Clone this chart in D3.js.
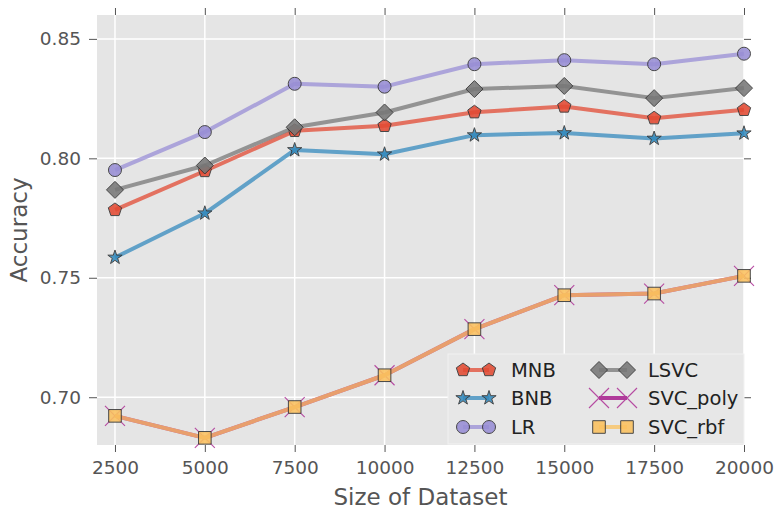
<!DOCTYPE html>
<html>
<head>
<meta charset="utf-8">
<script src="https://cdn.jsdelivr.net/npm/d3@7"></script>
<style>
  html, body { margin: 0; padding: 0; background: #ffffff; }
  svg { display: block; font-family: "DejaVu Sans", sans-serif; }
</style>
</head>
<body>
<svg id="chart" width="777" height="513"></svg>
<script>
// ---- data ----
const sizes = [2500, 5000, 7500, 10000, 12500, 15000, 17500, 20000];
const mnb   = [0.7784, 0.7947, 0.8115, 0.8136, 0.8193, 0.8217, 0.8168, 0.8203];
const bnb   = [0.7585, 0.7770, 0.8035, 0.8017, 0.8097, 0.8106, 0.8083, 0.8105];
const lr    = [0.7951, 0.8110, 0.8312, 0.8300, 0.8394, 0.8411, 0.8394, 0.8438];
const lsvc  = [0.7868, 0.7970, 0.8130, 0.8192, 0.8290, 0.8303, 0.8252, 0.8294];
const svcPoly = [0.6922, 0.6830, 0.6959, 0.7092, 0.7285, 0.7427, 0.7434, 0.7508];
const svcRbf  = [0.6922, 0.6830, 0.6959, 0.7092, 0.7285, 0.7427, 0.7434, 0.7508];
const xTicks = [2500, 5000, 7500, 10000, 12500, 15000, 17500, 20000];
const yTicks = [0.70, 0.75, 0.80, 0.85];
const seriesNames = ["MNB", "BNB", "LR", "LSVC", "SVC_poly", "SVC_rbf"];

// ---- styling ----
const styles = {
  MNB:      {color: "#E24A33", marker: "pentagon", size: 7},
  BNB:      {color: "#348ABD", marker: "star", size: 7.5},
  LR:       {color: "#988ED5", marker: "circle", size: 6.5},
  LSVC:     {color: "#777777", marker: "diamond", size: 8.5},
  SVC_poly: {color: "#B03A9A", marker: "x", size: 10},
  SVC_rbf:  {color: "#FBC15E", marker: "square", size: 6.3}
};
const seriesValues = {MNB: mnb, BNB: bnb, LR: lr, LSVC: lsvc, SVC_poly: svcPoly, SVC_rbf: svcRbf};

const margin = {left: 97, right: 33, top: 15, bottom: 68};
const W = 777, H = 513;
const iw = W - margin.left - margin.right;
const ih = H - margin.top - margin.bottom;

const svg = d3.select("#chart");
const g = svg.append("g").attr("transform", `translate(${margin.left},${margin.top})`);

const x = d3.scaleLinear().domain([2000, 20000]).range([0, iw]);
const y = d3.scaleLinear().domain([0.68, 0.86]).range([ih, 0]);

g.append("rect").attr("width", iw).attr("height", ih).attr("fill", "#E5E5E5");

// grid
g.append("g").selectAll("line").data(xTicks).join("line")
  .attr("x1", d => x(d)).attr("x2", d => x(d)).attr("y1", 0).attr("y2", ih)
  .attr("stroke", "#ffffff").attr("stroke-width", 1.5);
g.append("g").selectAll("line").data(yTicks).join("line")
  .attr("y1", d => y(d)).attr("y2", d => y(d)).attr("x1", 0).attr("x2", iw)
  .attr("stroke", "#ffffff").attr("stroke-width", 1.5);

// axes
function styleAxis(sel, showText) {
  sel.select(".domain").remove();
  sel.selectAll(".tick line").attr("stroke", "#555555").attr("stroke-width", 1);
  sel.selectAll(".tick text").attr("fill", "#555555").style("font-size", "18.5px")
     .style("font-family", "DejaVu Sans, sans-serif");
  if (!showText) sel.selectAll(".tick text").remove();
}
g.append("g").attr("transform", `translate(0,${ih})`)
  .call(d3.axisBottom(x).tickValues(xTicks).tickFormat(d3.format("d")).tickSize(7).tickPadding(9))
  .call(s => styleAxis(s, true));
g.append("g")
  .call(d3.axisTop(x).tickValues(xTicks).tickSize(7))
  .call(s => styleAxis(s, false));
g.append("g")
  .call(d3.axisLeft(y).tickValues(yTicks).tickFormat(d3.format(".2f")).tickSize(8).tickPadding(8))
  .call(s => styleAxis(s, true));
g.append("g").attr("transform", `translate(${iw},0)`)
  .call(d3.axisRight(y).tickValues(yTicks).tickSize(7))
  .call(s => styleAxis(s, false));

// axis titles
svg.append("text").attr("x", margin.left + iw / 2).attr("y", 505)
  .attr("text-anchor", "middle").attr("fill", "#555555").style("font-size", "23px")
  .text("Size of Dataset");
svg.append("text")
  .attr("transform", `translate(27,${margin.top + ih / 2}) rotate(-90)`)
  .attr("text-anchor", "middle").attr("fill", "#555555").style("font-size", "23px")
  .text("Accuracy");

// marker shapes
function polygonPath(n, r, rot, innerRatio) {
  const pts = [];
  const count = innerRatio ? n * 2 : n;
  for (let i = 0; i < count; i++) {
    const rr = innerRatio && i % 2 === 1 ? r * innerRatio : r;
    const a = rot + i * 2 * Math.PI / count;
    pts.push([rr * Math.sin(a), -rr * Math.cos(a)]);
  }
  return "M" + pts.map(p => p[0].toFixed(2) + "," + p[1].toFixed(2)).join("L") + "Z";
}
function markerPath(type, s) {
  switch (type) {
    case "pentagon": return polygonPath(5, s, 0);
    case "star": return polygonPath(5, s, 0, 0.381966);
    case "circle": return d3.symbol(d3.symbolCircle, Math.PI * s * s)();
    case "diamond": return polygonPath(4, s, 0);
    case "square": return `M${-s},${-s}L${s},${-s}L${s},${s}L${-s},${s}Z`;
    case "x": return `M${-s},${-s}L${s},${s}M${-s},${s}L${s},${-s}`;
  }
}
function drawMarker(sel, name) {
  const st = styles[name];
  const p = sel.append("path").attr("d", markerPath(st.marker, st.size));
  if (st.marker === "x") {
    p.attr("fill", "none").attr("stroke", st.color).attr("stroke-width", 1.1).attr("opacity", 0.9);
  } else {
    p.attr("fill", st.color).attr("stroke", "#333333").attr("stroke-width", 1).attr("opacity", 0.88);
  }
}

const line = d3.line().x(d => x(d[0])).y(d => y(d[1]));

seriesNames.forEach(name => {
  const st = styles[name];
  const pts = sizes.map((s, i) => [s, seriesValues[name][i]]);
  const sg = g.append("g");
  sg.append("path").attr("d", line(pts)).attr("fill", "none")
    .attr("stroke", st.color).attr("stroke-width", 4)
    .attr("stroke-opacity", name === "SVC_poly" ? 1 : 0.75)
    .attr("stroke-linejoin", "round");
  sg.selectAll("g.m").data(pts).join("g").attr("class", "m")
    .attr("transform", d => `translate(${x(d[0])},${y(d[1])})`)
    .each(function () { drawMarker(d3.select(this), name); });
});

// legend
const leg = svg.append("g");
leg.append("rect").attr("x", 448).attr("y", 354).attr("width", 296).attr("height", 90)
  .attr("fill", "#E7E7E7").attr("stroke", "#f2f2f2").attr("stroke-width", 1);
const legCols = [
  {x1: 463, x2: 489, tx: 511},
  {x1: 599, x2: 627, tx: 648}
];
const legRows = [370, 398, 427];
seriesNames.forEach((name, i) => {
  const c = legCols[Math.floor(i / 3)];
  const ry = legRows[i % 3];
  const st = styles[name];
  const lg = leg.append("g");
  lg.append("line").attr("x1", c.x1).attr("x2", c.x2).attr("y1", ry).attr("y2", ry)
    .attr("stroke", st.color).attr("stroke-width", 4)
    .attr("stroke-opacity", name === "SVC_poly" ? 1 : 0.75);
  [c.x1, c.x2].forEach(mx => {
    const mg = lg.append("g").attr("transform", `translate(${mx},${ry})`);
    drawMarker(mg, name);
  });
  lg.append("text").attr("x", c.tx).attr("y", ry).attr("dy", "0.35em")
    .attr("fill", "#222222").style("font-size", "19.5px").text(name);
});
</script>
</body>
</html>
